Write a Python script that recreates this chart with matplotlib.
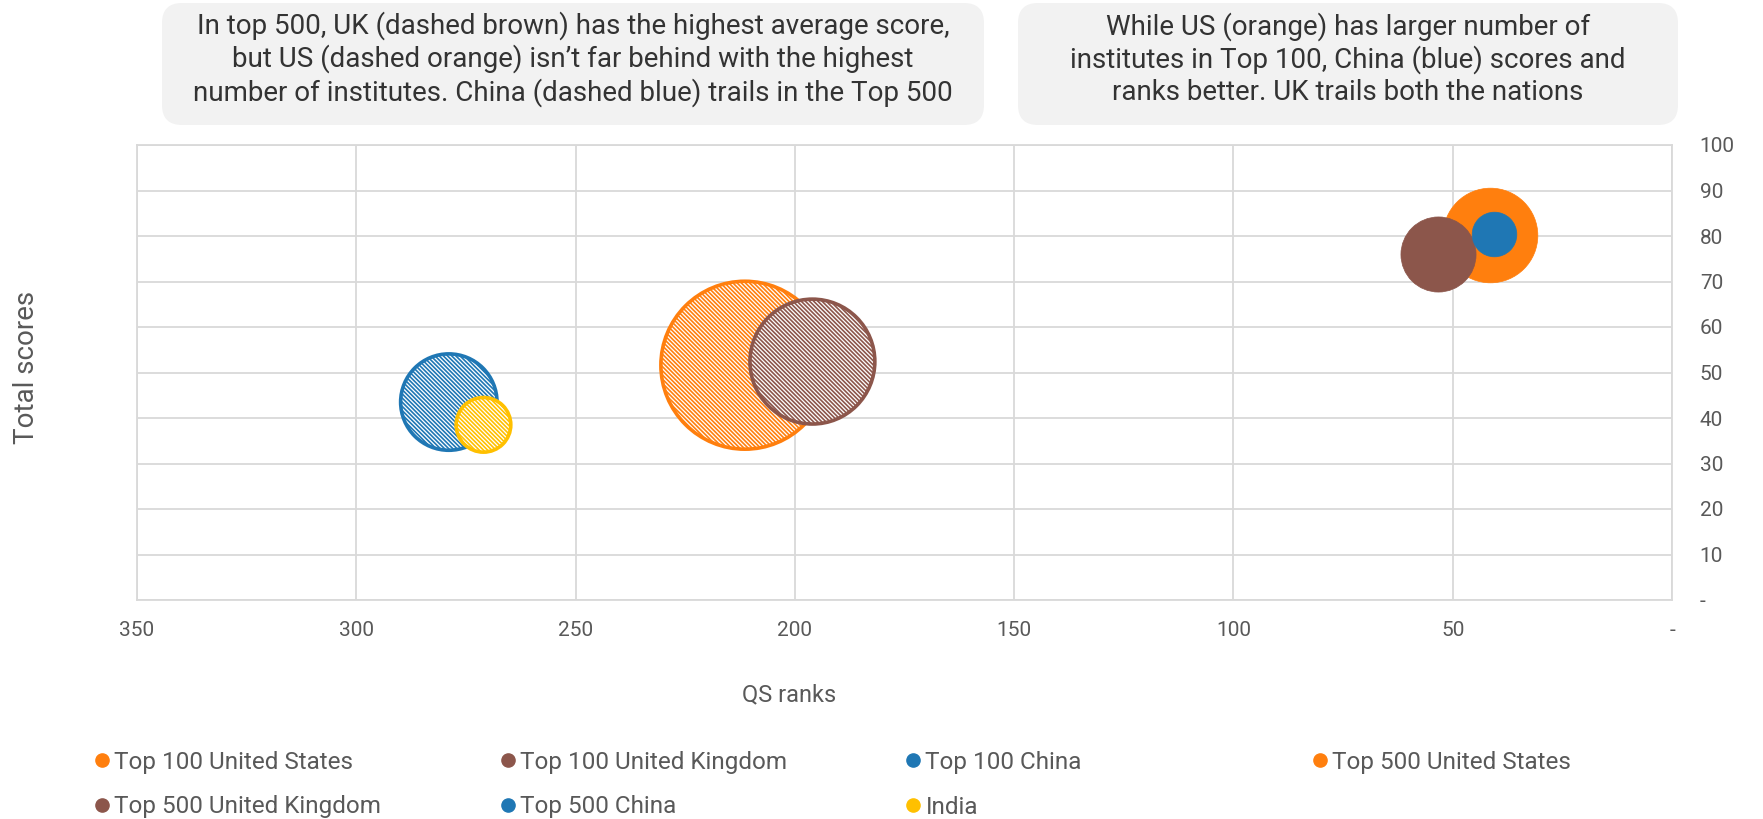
import matplotlib
matplotlib.use("Agg")
import matplotlib.pyplot as plt
from matplotlib.patches import FancyBboxPatch
from matplotlib.lines import Line2D

plt.rcParams['font.family'] = ['Roboto', 'DejaVu Sans']
plt.rcParams['hatch.linewidth'] = 1.2

# ---- data ----
series_names = ["Top 100 United States", "Top 100 United Kingdom", "Top 100 China",
                "Top 500 United States", "Top 500 United Kingdom", "Top 500 China", "India"]
qs_rank = [41.6, 53.4, 40.7, 211.4, 196.0, 278.9, 271.0]
total_score = [80.3, 76.0, 80.4, 51.6, 52.4, 43.5, 38.5]
institutes = [27, 17, 6, 85, 47, 28, 9]
hatched = [False, False, False, True, True, True, True]
colors = ["#FF7F0E", "#8C564B", "#1F77B4", "#FF7F0E", "#8C564B", "#1F77B4", "#FFC000"]

x_ticks = [350, 300, 250, 200, 150, 100, 50, 0]
x_tick_labels = ["350", "300", "250", "200", "150", "100", "50", "-"]
y_ticks = [0, 10, 20, 30, 40, 50, 60, 70, 80, 90, 100]
y_tick_labels = ["-", "10", "20", "30", "40", "50", "60", "70", "80", "90", "100"]

note_left = ("In top 500, UK (dashed brown) has the highest average score,\n"
             "but US (dashed orange) isn\u2019t far behind with the highest\n"
             "number of institutes. China (dashed blue) trails in the Top 500")
note_right = ("While US (orange) has larger number of\n"
              "institutes in Top 100, China (blue) scores and\n"
              "ranks better. UK trails both the nations")

TEXT = "#595959"
GRID = "#D9D9D9"

W, H = 1763, 819
fig = plt.figure(figsize=(W / 100, H / 100), dpi=100)
ax = fig.add_axes([137 / W, (H - 600) / H, (1672 - 137) / W, 455 / H])

size_scale = 172.0
for i, name in enumerate(series_names):
    s = institutes[i] * size_scale
    if hatched[i]:
        ax.scatter([qs_rank[i]], [total_score[i]], s=s, facecolor="white",
                   edgecolor=colors[i], linewidths=2.6, hatch="\\" * 8,
                   zorder=3 + i, label=name)
    else:
        ax.scatter([qs_rank[i]], [total_score[i]], s=s, facecolor=colors[i],
                   edgecolor=colors[i], linewidths=0.5, zorder=3 + i, label=name)

ax.set_xlim(350, 0)
ax.set_ylim(0, 100)
ax.set_xticks(x_ticks)
ax.set_xticklabels(x_tick_labels)
ax.set_yticks(y_ticks)
ax.set_yticklabels(y_tick_labels)
ax.yaxis.tick_right()
ax.tick_params(axis='y', length=0, pad=20, labelsize=15, labelcolor=TEXT)
ax.tick_params(axis='x', length=0, pad=15, labelsize=15, labelcolor=TEXT)
ax.grid(True, color=GRID, linewidth=1.3)
ax.set_axisbelow(True)
for sp in ax.spines.values():
    sp.set_color(GRID)
    sp.set_linewidth(1.3)

ax.set_xlabel("QS ranks", fontsize=17, color=TEXT)
ax.xaxis.set_label_coords((789 - 137) / 1535, -83 / 455)
ax.set_ylabel("Total scores", fontsize=20, color=TEXT)
ax.yaxis.set_label_position('left')
ax.yaxis.set_label_coords((40 - 137) / 1535, (600 - 367) / 455)

# ---- annotation boxes ----
def note(x0, x1, text):
    y_top, y_bot = 3, 125
    box = FancyBboxPatch((x0 / 100, (H - y_bot) / 100), (x1 - x0) / 100, (y_bot - y_top) / 100,
                         boxstyle="round,pad=0,rounding_size=0.2",
                         transform=fig.dpi_scale_trans, facecolor="#F2F2F2",
                         edgecolor="none")
    fig.add_artist(box)
    fig.text((x0 + x1) / 2 / W, 1 - 59 / H, text, ha="center", va="center",
             fontsize=20, color="#333333", linespacing=1.2)

note(162, 984, note_left)
note(1018, 1678, note_right)

# ---- legend (manually positioned entries) ----
legend_pos = [(0, 0), (1, 0), (2, 0), (3, 0), (0, 1), (1, 1), (2, 1)]
col_x = [95, 501, 906, 1313]
row_y = [762, 807]
for i, name in enumerate(series_names):
    c, r = legend_pos[i]
    h = Line2D([], [], marker='o', linestyle='', markersize=9.5,
               markerfacecolor=colors[i], markeredgecolor=colors[i])
    fig.legend(handles=[h], labels=[name], loc='center left',
               bbox_to_anchor=(col_x[c] / W, 1 - row_y[r] / H),
               frameon=False, fontsize=17.5, labelcolor=TEXT,
               handlelength=0.6, handletextpad=0.2, borderpad=0,
               borderaxespad=0)

fig.savefig("out.png", dpi=100)
